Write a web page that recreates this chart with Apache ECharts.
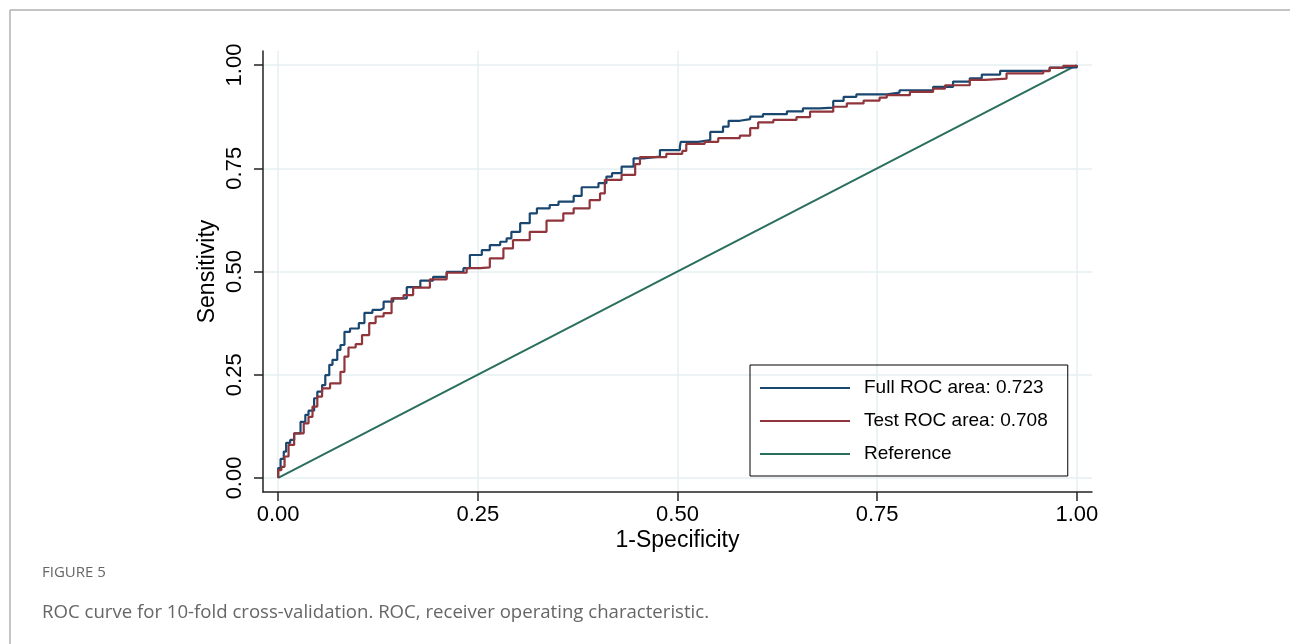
<!DOCTYPE html>
<html>
<head>
<meta charset="utf-8">
<title>ROC curve</title>
<script src="https://cdn.jsdelivr.net/npm/echarts@6/dist/echarts.min.js"></script>
<style>
    html, body { margin: 0; padding: 0; background: #fff; }
    #roc-div { width: 1290px; height: 644px; }
</style>
</head>
<body>
<div id="roc-div"></div>
<script>
// tick positions shared by both axes
var tickValues = [0, 0.25, 0.5, 0.75, 1];

// Full ROC (blue): 1-specificity / sensitivity
var fullFpr = [0, 0, 0.003, 0.007, 0.010, 0.015, 0.020, 0.028, 0.034, 0.038, 0.045, 0.049, 0.055, 0.059, 0.064, 0.068,
    0.074, 0.078, 0.083, 0.090, 0.101, 0.108, 0.118, 0.128, 0.132, 0.144, 0.161, 0.178, 0.194, 0.211, 0.232, 0.240,
    0.255, 0.265, 0.278, 0.286, 0.292, 0.303, 0.315, 0.324, 0.340, 0.351, 0.370, 0.380, 0.401, 0.411, 0.418, 0.430,
    0.445, 0.457, 0.478, 0.503, 0.504, 0.526, 0.541, 0.557, 0.564, 0.578, 0.591, 0.607, 0.637, 0.657, 0.678, 0.695,
    0.708, 0.724, 0.762, 0.778, 0.820, 0.845, 0.866, 0.881, 0.904, 0.945, 0.966, 1];
var fullTpr = [0, 0.024, 0.046, 0.064, 0.085, 0.092, 0.108, 0.136, 0.153, 0.163, 0.193, 0.209, 0.225, 0.249, 0.274, 0.286,
    0.310, 0.322, 0.354, 0.362, 0.375, 0.400, 0.407, 0.411, 0.427, 0.435, 0.462, 0.478, 0.487, 0.499, 0.508, 0.540,
    0.552, 0.564, 0.572, 0.580, 0.596, 0.617, 0.641, 0.653, 0.661, 0.669, 0.683, 0.704, 0.714, 0.730, 0.738, 0.754,
    0.774, 0.778, 0.794, 0.802, 0.814, 0.818, 0.838, 0.851, 0.865, 0.869, 0.875, 0.881, 0.888, 0.895, 0.897, 0.913,
    0.923, 0.929, 0.933, 0.939, 0.947, 0.960, 0.968, 0.977, 0.986, 0.986, 0.994, 1];

// Test ROC (red)
var testFpr = [0, 0, 0.004, 0.008, 0.013, 0.020, 0.026, 0.032, 0.038, 0.043, 0.049, 0.055, 0.065, 0.078, 0.083, 0.088,
    0.097, 0.105, 0.114, 0.122, 0.132, 0.142, 0.157, 0.169, 0.190, 0.211, 0.236, 0.253, 0.265, 0.282, 0.294, 0.315,
    0.336, 0.357, 0.370, 0.390, 0.403, 0.409, 0.430, 0.447, 0.453, 0.486, 0.506, 0.511, 0.534, 0.551, 0.578, 0.591,
    0.601, 0.620, 0.649, 0.666, 0.695, 0.712, 0.733, 0.753, 0.762, 0.791, 0.820, 0.835, 0.866, 0.885, 0.912, 0.958,
    0.966, 0.983, 1];
var testTpr = [0, 0.019, 0.027, 0.052, 0.080, 0.108, 0.108, 0.132, 0.148, 0.173, 0.197, 0.217, 0.229, 0.257, 0.294, 0.316,
    0.324, 0.346, 0.375, 0.391, 0.399, 0.435, 0.443, 0.461, 0.481, 0.497, 0.508, 0.510, 0.532, 0.556, 0.576, 0.596,
    0.623, 0.641, 0.653, 0.673, 0.689, 0.722, 0.734, 0.760, 0.777, 0.785, 0.792, 0.809, 0.814, 0.823, 0.829, 0.847,
    0.861, 0.867, 0.874, 0.887, 0.899, 0.907, 0.914, 0.921, 0.927, 0.935, 0.943, 0.951, 0.964, 0.967, 0.980, 0.985,
    0.993, 0.998, 1];

// chance diagonal
var refX = [0, 1];
var refY = [0, 1];

var seriesNames = ['Full ROC area: 0.723', 'Test ROC area: 0.708', 'Reference'];

function zip(xs, ys) {
    var out = [];
    for (var i = 0; i < xs.length; i++) {
        out.push([xs[i], ys[i]]);
    }
    return out;
}

function fmt2(v) {
    return v.toFixed(2);
}

var fontName = "'Liberation Sans', Arial, sans-serif";
var gridColor = '#e6eff2';

var rocChart = echarts.init(document.getElementById('roc-div'));

var option = {
    animation: false,
    backgroundColor: '#fff',
    textStyle: { fontFamily: fontName, color: '#000' },
    title: [
        {
            text: 'FIGURE 5',
            left: 42,
            top: 565,
            padding: 0,
            textStyle: { fontFamily: "'Open Sans', sans-serif", fontSize: 15, fontWeight: 'normal', color: '#666' }
        },
        {
            text: 'ROC curve for 10-fold cross-validation. ROC, receiver operating characteristic.',
            left: 42,
            top: 603,
            padding: 0,
            textStyle: { fontFamily: "'Open Sans', sans-serif", fontSize: 18.6, fontWeight: 'normal', color: '#666' }
        }
    ],
    graphic: [
        // figure frame (top and left edges only)
        { type: 'line', shape: { x1: 10, y1: 10, x2: 1290, y2: 10 }, style: { stroke: '#b0b0b0', lineWidth: 1.5 } },
        { type: 'line', shape: { x1: 10, y1: 10, x2: 10, y2: 644 }, style: { stroke: '#b0b0b0', lineWidth: 1.5 } }
    ],
    legend: {
        orient: 'vertical',
        left: 750,
        top: 365,
        padding: [13, 20, 12, 10],
        borderColor: '#000',
        borderWidth: 1,
        icon: 'rect',
        itemWidth: 90,
        itemHeight: 2,
        itemGap: 13,
        data: seriesNames,
        textStyle: { fontFamily: fontName, fontSize: 19, color: '#000', lineHeight: 20, padding: [0, 0, 0, 9] }
    },
    grid: {
        left: 263,
        right: 198,
        top: 51,
        bottom: 152
    },
    xAxis: {
        type: 'value',
        min: -0.019,
        max: 1.019,
        name: '1-Specificity',
        nameLocation: 'middle',
        nameGap: 37,
        nameMoveOverlap: false,
        nameTextStyle: { fontSize: 23, color: '#000' },
        axisLine: { show: true, onZero: false, lineStyle: { color: '#222', width: 1.5 } },
        axisTick: { show: true, length: 9, customValues: tickValues, lineStyle: { color: '#222', width: 1.5 } },
        axisLabel: { customValues: tickValues, fontSize: 22, color: '#000', margin: 12, formatter: fmt2 },
        splitLine: { show: true, lineStyle: { color: gridColor, width: 1.5 } }
    },
    yAxis: {
        type: 'value',
        min: -0.034,
        max: 1.034,
        name: 'Sensitivity',
        nameLocation: 'middle',
        nameGap: 44,
        nameMoveOverlap: false,
        nameTextStyle: { fontSize: 23, color: '#000' },
        axisLine: { show: true, onZero: false, lineStyle: { color: '#222', width: 1.5 } },
        axisTick: { show: true, length: 9, customValues: tickValues, lineStyle: { color: '#222', width: 1.5 } },
        axisLabel: { customValues: tickValues, fontSize: 22, color: '#000', margin: 17, rotate: 90, formatter: fmt2 },
        splitLine: { show: true, lineStyle: { color: gridColor, width: 1.5 } }
    },
    series: [
        {
            name: seriesNames[0],
            type: 'line',
            step: 'end',
            symbol: 'none',
            color: '#1a476f',
            lineStyle: { width: 2.2, color: '#1a476f' },
            data: zip(fullFpr, fullTpr),
            z: 3
        },
        {
            name: seriesNames[1],
            type: 'line',
            step: 'end',
            symbol: 'none',
            color: '#90353b',
            lineStyle: { width: 2.2, color: '#90353b' },
            data: zip(testFpr, testTpr),
            z: 4
        },
        {
            name: seriesNames[2],
            type: 'line',
            symbol: 'none',
            color: '#2a6e5e',
            lineStyle: { width: 2, color: '#2a6e5e' },
            data: zip(refX, refY),
            z: 2
        }
    ]
};

rocChart.setOption(option);
</script>
</body>
</html>
